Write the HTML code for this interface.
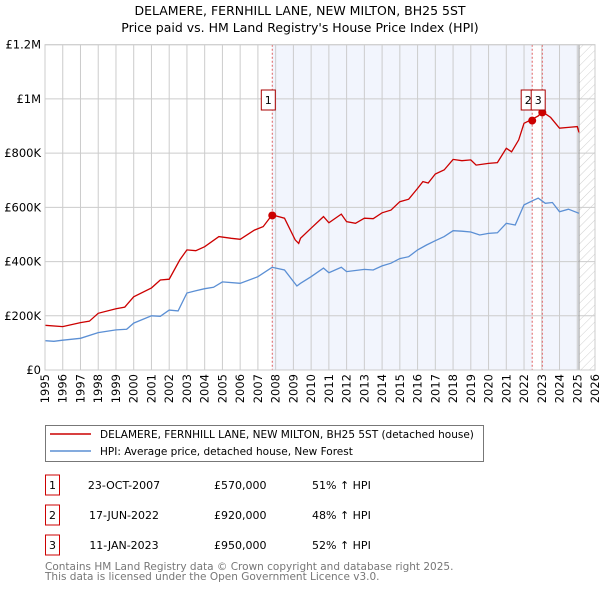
<!DOCTYPE html>
<html><head><meta charset="utf-8"><style>
body{margin:0;background:#fff;width:600px;height:590px;overflow:hidden;font-family:"DejaVu Sans","Liberation Sans",sans-serif}
svg text{font-family:"DejaVu Sans","Liberation Sans",sans-serif}
</style></head><body>
<svg id="chart" width="600" height="590" viewBox="0 0 600 590" xmlns="http://www.w3.org/2000/svg">
<defs><pattern id="hatch" width="6" height="6" patternUnits="userSpaceOnUse" patternTransform="rotate(45)"><line x1="0" y1="0" x2="0" y2="6" stroke="#bbb" stroke-width="0.7"/></pattern></defs>
<text x="300" y="15" text-anchor="middle" font-size="12.5">DELAMERE, FERNHILL LANE, NEW MILTON, BH25 5ST</text>
<text x="300" y="32" text-anchor="middle" font-size="12.5">Price paid vs. HM Land Registry's House Price Index (HPI)</text>
<g id="plot"></g>
<rect x="45.5" y="425.5" width="438" height="36" fill="#fff" stroke="#777"/>
<line x1="50" y1="434" x2="91" y2="434" stroke="#cc0000" stroke-width="1.5"/>
<text x="100" y="438" font-size="10.5">DELAMERE, FERNHILL LANE, NEW MILTON, BH25 5ST (detached house)</text>
<line x1="50" y1="451" x2="91" y2="451" stroke="#5b8fd4" stroke-width="1.5"/>
<text x="100" y="455" font-size="10.5">HPI: Average price, detached house, New Forest</text>
<g id="table" font-size="11"></g>
<text x="45" y="570" font-size="10.5" fill="#777">Contains HM Land Registry data © Crown copyright and database right 2025.</text>
<text x="45" y="580" font-size="10.5" fill="#777">This data is licensed under the Open Government Licence v3.0.</text>
</svg>
<script>
const yearTicks=[1995,1996,1997,1998,1999,2000,2001,2002,2003,2004,2005,2006,2007,2008,2009,2010,2011,2012,2013,2014,2015,2016,2017,2018,2019,2020,2021,2022,2023,2024,2025,2026];
const valueTicks=[0,200000,400000,600000,800000,1000000,1200000];
const valueTickLabels=["£0","£200K","£400K","£600K","£800K","£1M","£1.2M"];
const hpiYears=[1995,1995.5,1996,1997,1998,1999,1999.6,2000,2001,2001.5,2002,2002.5,2003,2003.5,2004,2004.5,2005,2006,2007,2007.8,2008.5,2009.2,2009.4,2010,2010.7,2011,2011.7,2012,2013,2013.5,2014,2014.5,2015,2015.5,2016,2016.5,2017,2017.5,2018,2018.5,2019,2019.5,2020,2020.5,2021,2021.5,2022,2022.5,2022.8,2023.2,2023.6,2024,2024.5,2025.1];
const hpiValues=[108000,106000,110000,117000,138000,148000,150000,173000,200000,198000,221000,218000,284000,292000,300000,305000,325000,320000,344000,379000,369000,310000,320000,344000,376000,359000,379000,363000,371000,369000,384000,394000,411000,418000,443000,461000,477000,492000,514000,512000,509000,498000,504000,506000,541000,535000,609000,625000,634000,615000,618000,584000,593000,578000];
const propYears=[1995,1996,1997,1997.5,1998,1999,1999.5,2000,2001,2001.5,2002,2002.6,2003,2003.5,2004,2004.8,2005.5,2006,2006.8,2007.3,2007.8,2008.5,2009.1,2009.3,2009.4,2010,2010.7,2011,2011.7,2012,2012.5,2013,2013.5,2014,2014.5,2015,2015.5,2016,2016.3,2016.6,2017,2017.5,2018,2018.5,2019,2019.3,2020,2020.5,2021,2021.3,2021.7,2022,2022.46,2022.8,2023.03,2023.5,2024,2024.5,2025,2025.1];
const propValues=[165000,160000,175000,180000,209000,226000,232000,270000,303000,332000,335000,406000,443000,440000,455000,492000,486000,482000,516000,529000,572000,560000,480000,467000,486000,523000,566000,543000,575000,547000,541000,560000,558000,580000,590000,621000,630000,670000,695000,690000,723000,738000,777000,772000,775000,756000,762000,765000,818000,805000,849000,910000,925000,937000,953000,932000,892000,895000,898000,876000];
const saleYears=[2007.81,2022.46,2023.03];
const saleValues=[570000,920000,950000];
const saleLabels=["1","2","3"];
const saleDates=["23-OCT-2007","17-JUN-2022","11-JAN-2023"];
const salePrices=["£570,000","£920,000","£950,000"];
const saleHpi=["51% ↑ HPI","48% ↑ HPI","52% ↑ HPI"];

const NS="http://www.w3.org/2000/svg";
const X0=45,X1=595,Y0=370,Y1=44.7;
const xs=y=>X0+(y-1995)/(2026-1995)*(X1-X0);
const ys=v=>Y0-v/1200000*(Y0-Y1);
function mk(tag,attrs,parent,txt){const e=document.createElementNS(NS,tag);for(const k in attrs)e.setAttribute(k,attrs[k]);if(txt!==undefined)e.textContent=txt;parent.appendChild(e);return e;}
const plot=document.getElementById('plot');
let s1=mk('rect',{x:xs(saleYears[0]),y:Y1,width:xs(saleYears[1])-xs(saleYears[0]),height:Y0-Y1,fill:'#f2f5fd'},plot);


let s2=mk('rect',{x:xs(saleYears[2]),y:Y1,width:xs(2025.1)-xs(saleYears[2]),height:Y0-Y1,fill:'#f2f5fd'},plot);


let h=mk('rect',{x:xs(2025.1),y:Y1,width:X1-xs(2025.1),height:Y0-Y1,fill:'url(#hatch)'},plot);


yearTicks.forEach(y=>{
  const g=mk('line',{x1:xs(y),x2:xs(y),y1:Y1,y2:Y0,stroke:'#ccc','stroke-width':1},plot);
  
  
  const t=mk('text',{x:0,y:0,'font-size':11.5,'text-anchor':'end',transform:`translate(${xs(y)+4},${Y0+4}) rotate(-90)`},plot,String(y));
  
  
});
valueTicks.forEach((v,i)=>{
  const g=mk('line',{x1:X0,x2:X1,y1:ys(v),y2:ys(v),stroke:'#ccc','stroke-width':1},plot);
  
  
  const t=mk('text',{x:X0-4,y:ys(v)+4,'font-size':11.5,'text-anchor':'end'},plot,valueTickLabels[i]);
  
  
});
let fl=mk('line',{x1:xs(2025.1),x2:xs(2025.1),y1:Y1,y2:Y0,stroke:'#999','stroke-width':1},plot);


saleYears.forEach(y=>{
  const l=mk('line',{x1:xs(y),x2:xs(y),y1:Y1,y2:Y0,stroke:'#e06060','stroke-width':1,'stroke-dasharray':'2,2'},plot);
  
  
});
const pts=(xa,va)=>xa.map((y,i)=>xs(y).toFixed(1)+','+ys(va[i]).toFixed(1)).join(' ');
let hl=mk('polyline',{points:pts(hpiYears,hpiValues),fill:'none',stroke:'#5b8fd4','stroke-width':1.3},plot);


let pl=mk('polyline',{points:pts(propYears,propValues),fill:'none',stroke:'#cc0000','stroke-width':1.3},plot);


saleYears.forEach((y,i)=>{
  const c=mk('circle',{cx:xs(y),cy:ys(saleValues[i]),r:4,fill:'#cc0000'},plot);
  
  
  const bx=i===2?xs(saleYears[1])-1:xs(y)-11;
  const b=mk('rect',{x:bx.toFixed(1),y:90,width:14,height:20,fill:'#fff',stroke:'#aa0000'},plot);
  
  
  const t=mk('text',{x:(bx+7).toFixed(1),y:104,'font-size':11,'text-anchor':'middle'},plot,saleLabels[i]);
  
  
});
let frame=mk('rect',{x:X0,y:Y1,width:X1-X0,height:Y0-Y1,fill:'none',stroke:'#ccc'},plot);


const tb=document.getElementById('table');
saleLabels.forEach((l,i)=>{
  const cy=485+i*30;
  const b=mk('rect',{x:45.5,y:cy-10,width:14,height:20,fill:'#fff',stroke:'#cc0000'},tb);
  
  
  const cells=[[52.5,l,'middle'],[124,saleDates[i],'middle'],[214,salePrices[i],'start'],[312,saleHpi[i],'start']];
  const names=['table-label','sale-date','sale-price','hpi-change'];
  cells.forEach((c,j)=>{
    const t=mk('text',{x:c[0],y:cy+4,'text-anchor':c[2]},tb,c[1]);
    
    
  });
});
</script>
</body></html>
